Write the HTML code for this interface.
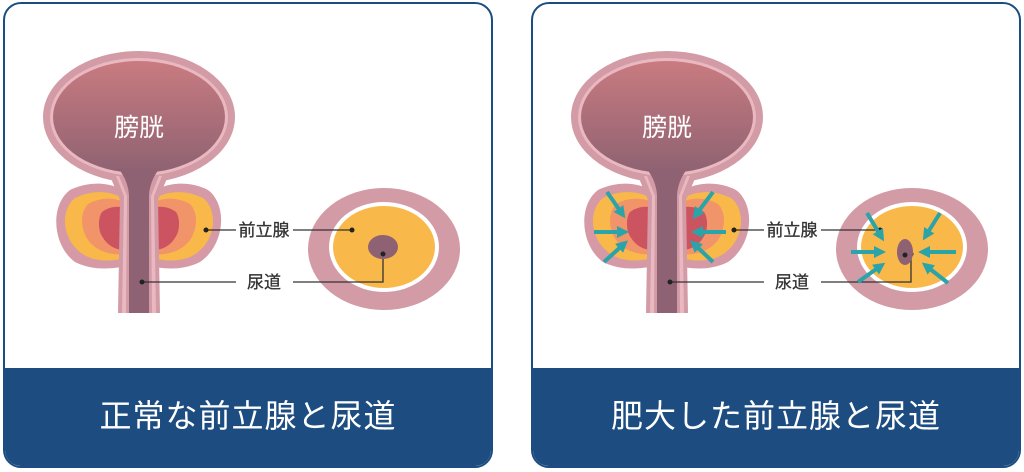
<!DOCTYPE html>
<html><head><meta charset="utf-8"><style>
body{margin:0;width:1024px;height:472px;background:#fff;overflow:hidden;font-family:"Liberation Sans","Noto Sans CJK JP",sans-serif}
.panel{position:absolute;top:2px;width:490px;height:466px;border:2px solid #1c4c80;border-radius:18px;overflow:hidden;box-sizing:border-box;background:#fff}
.band{position:absolute;left:0;right:0;bottom:0;height:98px;background:#1c4c80;color:#fff;font-size:32px;text-align:center;line-height:96px;letter-spacing:1px}
svg{position:absolute;left:0;top:0}
</style></head><body>
<div class="panel" style="left:3px"><div class="band">正常な前立腺と尿道</div></div>
<div class="panel" style="left:531px"><div class="band">肥大した前立腺と尿道</div></div>
<svg width="1024" height="472" viewBox="0 0 1024 472">
<defs>
<linearGradient id="g" x1="0" y1="0" x2="0" y2="1"><stop offset="0" stop-color="#c97b80"/><stop offset="1" stop-color="#8e6272"/></linearGradient>
<marker id="ah" markerWidth="12" markerHeight="12" refX="8" refY="6" orient="auto" markerUnits="userSpaceOnUse"><path d="M0,0 L12,6 L0,12 z" fill="#2aa3a9"/></marker>
<g id="body">
 <path d="M70,190 C95,178 120,185 128,195 L150,195 C158,185 185,178 208,190 C228,205 225,245 200,262 C180,272 160,268 150,266 L128,266 C115,268 95,272 75,262 C52,245 50,205 70,190 z" fill="#d59aa6"/>
 <path d="M75,198 C95,188 115,192 125,200 L125,258 C110,262 92,262 80,252 C62,238 60,210 75,198 z" fill="#f9b94a"/>
 <path d="M203,198 C183,188 163,192 153,200 L153,258 C168,262 186,262 198,252 C216,238 218,210 203,198 z" fill="#f9b94a"/>
 <path d="M88,204 C102,196 118,198 125,203 L125,254 C110,256 95,250 88,240 C80,228 80,212 88,204 z" fill="#f29469"/>
 <path d="M190,204 C176,196 160,198 153,203 L153,254 C168,256 183,250 190,240 C198,228 198,212 190,204 z" fill="#f29469"/>
 <path d="M102,212 C110,206 120,206 125,208 L125,250 C112,250 104,242 100,232 C98,224 99,216 102,212 z" fill="#cc5460"/>
 <path d="M176,212 C168,206 158,206 153,208 L153,250 C166,250 174,242 178,232 C180,224 179,216 176,212 z" fill="#cc5460"/>
 <ellipse cx="139" cy="117" rx="96" ry="66" fill="#d29ba6"/>
 <path d="M110,176 L120,200 L118,313 L160,313 L158,200 L168,176 z" fill="#d29ba6"/>
 <ellipse cx="139" cy="117" rx="89" ry="59" fill="#eab8c0"/>
 <path d="M116,176 L124,196 L122,313 L156,313 L154,196 L162,176 z" fill="#eab8c0"/>
 <path d="M119,176 L127,196 L126,313 L152,313 L151,196 L159,176 z" fill="#d29ba6"/>
 <ellipse cx="139" cy="117" rx="86" ry="56" fill="url(#g)"/>
 <path d="M118,168 Q128,180 129,195 L129,313 L149,313 L149,195 Q150,180 160,168 z" fill="#8e6272"/>
 <text x="139" y="136" font-size="25" fill="#fff" text-anchor="middle">膀胱</text>
 <ellipse cx="384" cy="249" rx="76" ry="61" fill="#d29ba6"/>
 <ellipse cx="384" cy="247" rx="55" ry="45" fill="#fff"/>
 <ellipse cx="384" cy="247" rx="51" ry="41" fill="#f9b94a"/>
 <g stroke="#333" stroke-width="1.3" fill="none">
  <line x1="206" y1="230" x2="236" y2="230"/><line x1="293" y1="230" x2="352" y2="230"/>
  <line x1="142" y1="282" x2="236" y2="282"/><polyline points="293,282 383,282 383,254"/>
 </g>
 <g fill="#222"><circle cx="206" cy="230" r="2.5"/><circle cx="352" cy="230" r="2.5"/><circle cx="142" cy="282" r="2.5"/><circle cx="383" cy="254" r="2.5"/></g>
 <text x="264" y="236" font-size="17" fill="#333" text-anchor="middle" stroke="#333" stroke-width="0.3">前立腺</text>
 <text x="264" y="288" font-size="17" fill="#333" text-anchor="middle" stroke="#333" stroke-width="0.3">尿道</text>
</g>
</defs>
<use href="#body"/>
<ellipse cx="383" cy="247" rx="15" ry="12" fill="#8e6272"/>
<circle cx="383" cy="254" r="2.5" fill="#222"/>
<g transform="translate(528,0)">
<use href="#body"/>
<ellipse cx="377" cy="252" rx="8" ry="13" fill="#8e6272"/>
<circle cx="377" cy="255" r="2.5" fill="#222"/>
<g stroke="#2aa3a9" stroke-width="4" fill="none" marker-end="url(#ah)">
 <line x1="79" y1="192" x2="95" y2="215"/><line x1="66" y1="232" x2="97" y2="232"/><line x1="76" y1="262" x2="97" y2="243"/>
 <line x1="185" y1="192" x2="167" y2="216"/><line x1="198" y1="232" x2="167" y2="232"/><line x1="185" y1="262" x2="165" y2="243"/>
 <line x1="339" y1="213" x2="354" y2="238"/><line x1="323" y1="252" x2="354" y2="252"/><line x1="330" y1="282" x2="354" y2="265"/>
 <line x1="412" y1="213" x2="397" y2="237"/><line x1="428" y1="252" x2="394" y2="252"/><line x1="420" y1="283" x2="397" y2="265"/>
</g>
</g>
</svg>
</body></html>
